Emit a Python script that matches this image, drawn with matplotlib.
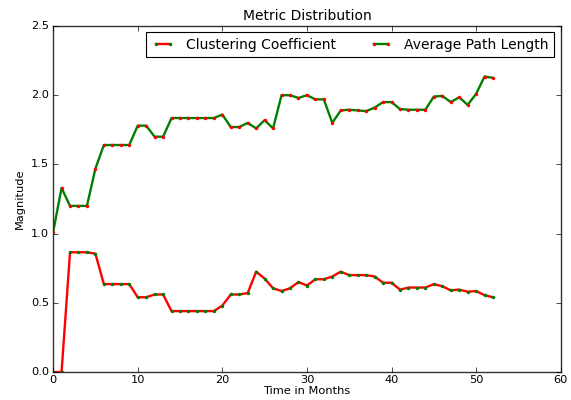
import matplotlib
matplotlib.use("Agg")
import matplotlib.pyplot as plt

plt.style.use("classic")
plt.rcParams["font.family"] = ["DejaVu Sans"]

months = list(range(53))
clustering = [0.0, 0.0, 0.865, 0.865, 0.865, 0.855, 0.635, 0.635, 0.635, 0.635,
              0.54, 0.54, 0.56, 0.56, 0.44, 0.44, 0.44, 0.44, 0.44, 0.44,
              0.48, 0.56, 0.56, 0.57, 0.725, 0.675, 0.605, 0.585, 0.605, 0.65,
              0.625, 0.67, 0.67, 0.69, 0.725, 0.70, 0.70, 0.70, 0.69, 0.645,
              0.645, 0.595, 0.61, 0.61, 0.61, 0.635, 0.62, 0.59, 0.595, 0.58,
              0.585, 0.555, 0.54]
path_length = [1.01, 1.33, 1.2, 1.2, 1.2, 1.47, 1.64, 1.64, 1.64, 1.64,
               1.78, 1.78, 1.70, 1.70, 1.835, 1.835, 1.835, 1.835, 1.835, 1.835,
               1.86, 1.77, 1.77, 1.80, 1.76, 1.82, 1.76, 2.0, 2.0, 1.98,
               2.0, 1.97, 1.97, 1.80, 1.89, 1.895, 1.89, 1.885, 1.91, 1.95,
               1.95, 1.90, 1.895, 1.895, 1.895, 1.99, 1.995, 1.95, 1.985, 1.93,
               2.01, 2.135, 2.125]

fig = plt.figure(figsize=(5.71, 4.0), dpi=100, facecolor="white")
ax = fig.add_axes([0.093, 0.07, 0.889, 0.865])
ax.set_facecolor("white")

ax.plot(months, clustering, color="red", lw=1.7, marker="o", ms=2.5,
        mfc="green", mec="none", label="Clustering Coefficient")
ax.plot(months, path_length, color="green", lw=1.7, marker="o", ms=2.5,
        mfc="red", mec="none", label="Average Path Length")

ax.set_xlim(0, 60)
ax.set_ylim(0, 2.5)
ax.set_xticks(range(0, 61, 10))
ax.set_yticks([0.0, 0.5, 1.0, 1.5, 2.0, 2.5])
ax.tick_params(labelsize=8.2, length=3.5)
ax.tick_params(axis="x", pad=2.5)
ax.tick_params(axis="y", pad=3)
ax.set_xlabel("Time in Months", fontsize=8.2, labelpad=0.5)
ax.set_ylabel("Magnitude", fontsize=8.2, labelpad=4)
ax.set_title("Metric Distribution", fontsize=10, pad=4)
for s in ax.spines.values():
    s.set_color("#333333")

leg = ax.legend(loc="upper right", ncol=2, numpoints=2, fontsize=10,
                handlelength=1.6, borderaxespad=0.45, fancybox=False,
                columnspacing=2.4, handletextpad=0.9)
leg.get_frame().set_linewidth(0.8)

fig.savefig("out.png", dpi=100, facecolor="white")
